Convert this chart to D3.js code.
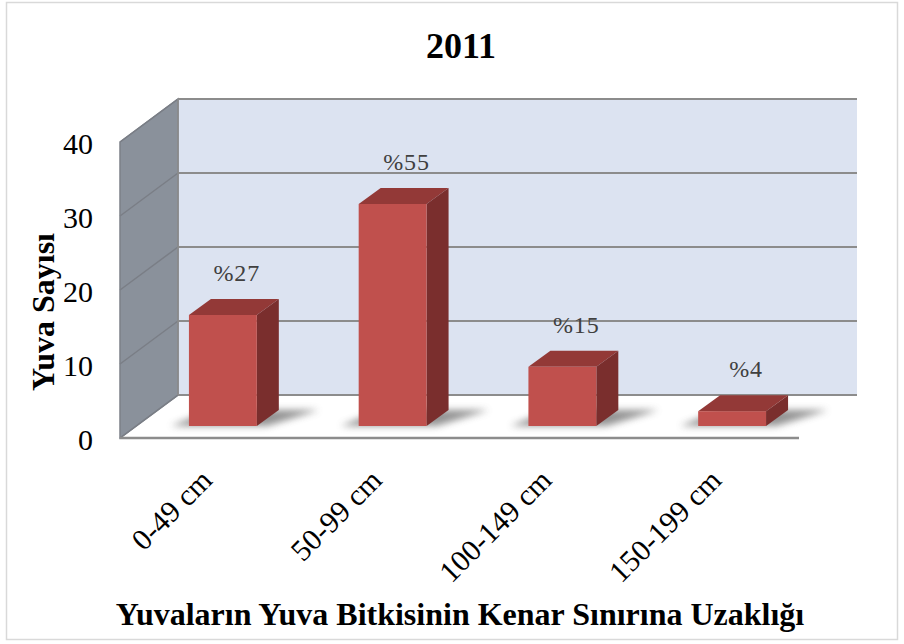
<!DOCTYPE html>
<html>
<head>
<meta charset="utf-8">
<style>
body { margin: 0; background: #fff; }
</style>
</head>
<body>

<svg id='chart'></svg>

<script src="https://d3js.org/d3.v7.min.js"></script>
<script>
// data
var categories = ['0-49 cm', '50-99 cm', '100-149 cm', '150-199 cm']
var counts = [15, 30, 8, 2]
var percentLabels = ['%27', '%55', '%15', '%4']
var yTicks = [0, 10, 20, 30, 40]

var TITLE = '2011'
var Y_TITLE = 'Yuva Sayısı'
var X_TITLE = 'Yuvaların Yuva Bitkisinin Kenar Sınırına Uzaklığı'

IMG_SIZE = [904, 644]
PLOT_LEFT = 120
PLOT_RIGHT = 799
PLOT_BOTTOM = 438
PLOT_TOP = 142
DEPTH = [58, -43]       // front plane -> back wall
BAR_FRONT = [18, -12]   // front plane -> bar front face
BAR_DEPTH = [22, -16]   // bar front face -> bar back face
SERIF = "'Liberation Serif', 'Times New Roman', Times, serif"

var svg = d3.select('#chart')
	.attr('width', IMG_SIZE[0])
	.attr('height', IMG_SIZE[1])

var defs = svg.append('defs')
defs.append('filter')
	.attr('id', 'blur')
	.attr('x', '-50%').attr('y', '-50%')
	.attr('width', '200%').attr('height', '200%')
	.append('feGaussianBlur')
	.attr('stdDeviation', 3.5)

var x = d3.scaleBand()
	.domain(categories)
	.range([PLOT_LEFT, PLOT_RIGHT])

var y = d3.scaleLinear()
	.domain([0, 40])
	.range([PLOT_BOTTOM, PLOT_TOP])

function pt(p) { return p[0] + ',' + p[1] }
function poly(points) { return points.map(pt).join(' ') }

// outer frame
svg.append('rect')
	.attr('x', 6.5).attr('y', 2.5)
	.attr('width', 891).attr('height', 637)
	.style('fill', '#fff')
	.style('stroke', '#d9d9d9')
	.style('stroke-width', 1.5)

// back wall
var yMax = y.domain()[1]
svg.append('polygon')
	.attr('points', poly([
		[PLOT_LEFT + DEPTH[0], y(yMax) + DEPTH[1]],
		[PLOT_RIGHT + DEPTH[0], y(yMax) + DEPTH[1]],
		[PLOT_RIGHT + DEPTH[0], y(0) + DEPTH[1]],
		[PLOT_LEFT + DEPTH[0], y(0) + DEPTH[1]]
	]))
	.style('fill', '#dce3f1')

// side wall
svg.append('polygon')
	.attr('points', poly([
		[PLOT_LEFT, y(yMax)],
		[PLOT_LEFT + DEPTH[0], y(yMax) + DEPTH[1]],
		[PLOT_LEFT + DEPTH[0], y(0) + DEPTH[1]],
		[PLOT_LEFT, y(0)]
	]))
	.style('fill', '#8a919b')
	.style('stroke', '#7c8088')
	.style('stroke-width', 1.5)

// gridlines on back wall and side wall
var grid = svg.append('g')
grid.selectAll('line.back')
	.data(yTicks)
	.enter().append('line')
	.attr('class', 'back')
	.attr('x1', PLOT_LEFT + DEPTH[0])
	.attr('x2', PLOT_RIGHT + DEPTH[0])
	.attr('y1', function(d) { return y(d) + DEPTH[1] })
	.attr('y2', function(d) { return y(d) + DEPTH[1] })
	.style('stroke', '#8c8c8c')
	.style('stroke-width', 2)

grid.selectAll('line.side')
	.data(yTicks)
	.enter().append('line')
	.attr('class', 'side')
	.attr('x1', PLOT_LEFT)
	.attr('x2', PLOT_LEFT + DEPTH[0])
	.attr('y1', function(d) { return y(d) })
	.attr('y2', function(d) { return y(d) + DEPTH[1] })
	.style('stroke', '#7a7e86')
	.style('stroke-width', 1.5)

grid.append('line')
	.attr('x1', PLOT_LEFT + DEPTH[0]).attr('x2', PLOT_LEFT + DEPTH[0])
	.attr('y1', y(yMax) + DEPTH[1]).attr('y2', y(0) + DEPTH[1])
	.style('stroke', '#8c8c8c')
	.style('stroke-width', 1.5)

// floor front edge
svg.append('line')
	.attr('x1', PLOT_LEFT).attr('x2', PLOT_RIGHT)
	.attr('y1', y(0)).attr('y2', y(0))
	.style('stroke', '#8c8c8c')
	.style('stroke-width', 2.5)

// bars
var barW = x.bandwidth() * 0.4
var bars = svg.selectAll('g.bar')
	.data(counts)
	.enter().append('g')
	.attr('class', 'bar')

function barGeom(d, i) {
	var x0 = x(categories[i]) + (x.bandwidth() - barW) / 2 + BAR_FRONT[0]
	var x1 = x0 + barW
	var yb = y(0) + BAR_FRONT[1]
	var yt = y(d) + BAR_FRONT[1]
	return {x0: x0, x1: x1, yb: yb, yt: yt}
}

bars.append('polygon')
	.attr('points', function(d, i) {
		var g = barGeom(d, i)
		return poly([
			[g.x0 - 18, g.yb],
			[g.x1 + 10, g.yb],
			[g.x1 + BAR_DEPTH[0] + 40, g.yb + BAR_DEPTH[1]],
			[g.x0 + BAR_DEPTH[0], g.yb + BAR_DEPTH[1]]
		])
	})
	.style('fill', '#6f6f6f')
	.style('opacity', 0.75)
	.attr('filter', 'url(#blur)')

bars.append('polygon')
	.attr('points', function(d, i) {
		var g = barGeom(d, i)
		return poly([
			[g.x0, g.yt],
			[g.x0 + BAR_DEPTH[0], g.yt + BAR_DEPTH[1]],
			[g.x1 + BAR_DEPTH[0], g.yt + BAR_DEPTH[1]],
			[g.x1, g.yt]
		])
	})
	.style('fill', '#933937')

bars.append('polygon')
	.attr('points', function(d, i) {
		var g = barGeom(d, i)
		return poly([
			[g.x1, g.yt],
			[g.x1 + BAR_DEPTH[0], g.yt + BAR_DEPTH[1]],
			[g.x1 + BAR_DEPTH[0], g.yb + BAR_DEPTH[1]],
			[g.x1, g.yb]
		])
	})
	.style('fill', '#7a2e2d')

bars.append('rect')
	.attr('x', function(d, i) { return barGeom(d, i).x0 })
	.attr('y', function(d, i) { return barGeom(d, i).yt })
	.attr('width', barW)
	.attr('height', function(d, i) { var g = barGeom(d, i); return g.yb - g.yt })
	.style('fill', '#c0504d')

// data labels
bars.append('text')
	.attr('x', function(d, i) { return barGeom(d, i).x0 + barW / 2 + 14 })
	.attr('y', function(d, i) { return barGeom(d, i).yt + BAR_DEPTH[1] - 18 })
	.attr('text-anchor', 'middle')
	.attr('font-family', SERIF)
	.attr('font-size', 24)
	.attr('letter-spacing', 1)
	.style('fill', '#404040')
	.text(function(d, i) { return percentLabels[i] })

// y axis
var yAxis = svg.append('g')
	.attr('transform', 'translate(' + PLOT_LEFT + ',0)')
	.call(d3.axisLeft(y).tickValues(yTicks).tickSize(0).tickPadding(27))
yAxis.select('.domain').remove()
yAxis.selectAll('text')
	.attr('font-family', SERIF)
	.attr('font-size', 30)
	.attr('dy', '0.38em')
	.style('fill', '#000')

// x axis labels
svg.append('g').selectAll('text')
	.data(categories)
	.enter().append('text')
	.attr('transform', function(d) {
		return 'translate(' + (x(d) + x.bandwidth() / 2 + 9) + ',' + (y(0) + 44) + ') rotate(-45)'
	})
	.attr('text-anchor', 'end')
	.attr('font-family', SERIF)
	.attr('font-size', 30)
	.style('fill', '#000')
	.text(function(d) { return d })

// titles
svg.append('text')
	.attr('x', 461).attr('y', 58)
	.attr('text-anchor', 'middle')
	.attr('font-family', SERIF)
	.attr('font-weight', 'bold')
	.attr('font-size', 36)
	.text(TITLE)

svg.append('text')
	.attr('transform', 'translate(54,312) rotate(-90)')
	.attr('text-anchor', 'middle')
	.attr('font-family', SERIF)
	.attr('font-weight', 'bold')
	.attr('font-size', 32)
	.text(Y_TITLE)

svg.append('text')
	.attr('x', 460).attr('y', 625)
	.attr('text-anchor', 'middle')
	.attr('font-family', SERIF)
	.attr('font-weight', 'bold')
	.attr('font-size', 32)
	.text(X_TITLE)
</script>

</body>
</html>
